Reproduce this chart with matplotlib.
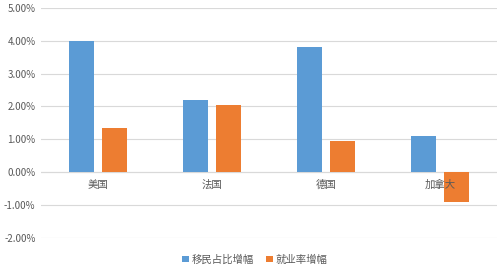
import matplotlib
matplotlib.use("Agg")
import matplotlib.pyplot as plt
import matplotlib.ticker as mticker
import matplotlib.transforms as mtransforms
import numpy as np

plt.rcParams['font.family'] = ['Noto Sans CJK SC', 'DejaVu Sans']

countries = ["美国", "法国", "德国", "加拿大"]
immigrant_share = [4.00, 2.20, 3.82, 1.10]
employment_rate = [1.35, 2.03, 0.95, -0.92]
series_names = ["移民占比增幅", "就业率增幅"]
yticks = [-2, -1, 0, 1, 2, 3, 4, 5]

blue = "#5B9BD5"
orange = "#ED7D31"
text_color = "#595959"
grid_color = "#D9D9D9"

fig = plt.figure(figsize=(5.0, 2.7), dpi=100)
ax = fig.add_axes([0.082, 0.119, 0.912, 0.852])

x = np.arange(len(countries))
w = 0.22
off = 0.143
ax.bar(x - off, immigrant_share, width=w, color=blue, label=series_names[0], zorder=3)
ax.bar(x + off, employment_rate, width=w, color=orange, label=series_names[1], zorder=3)

ax.set_xlim(-0.5, len(countries) - 0.5)
ax.set_ylim(-2.0, 5.0)
ax.set_yticks(yticks)
ax.yaxis.set_major_formatter(mticker.FuncFormatter(lambda v, p: f"{v:.2f}%"))
ax.tick_params(axis='y', length=0, labelsize=7, labelcolor=text_color, pad=4)
ax.set_xticks([])
ax.grid(axis='y', color=grid_color, linewidth=0.8, zorder=0)
for s in ax.spines.values():
    s.set_visible(False)
ax.axhline(0, color=grid_color, linewidth=0.8, zorder=2)

# category labels sit just under the zero line
lbl_tr = ax.transData + mtransforms.ScaledTranslation(0, -5.5 / 72, fig.dpi_scale_trans)
for xi, name in zip(x, countries):
    ax.text(xi, 0, name, transform=lbl_tr, ha='center', va='top',
            fontsize=7.5, color=text_color, zorder=4)

leg = fig.legend(loc='lower center', bbox_to_anchor=(0.51, -0.015), ncol=2,
                 frameon=False, fontsize=7.5, handlelength=0.6, handleheight=0.6,
                 handletextpad=0.3, columnspacing=1.2)
for t in leg.get_texts():
    t.set_color(text_color)

fig.savefig("out.png", dpi=100, facecolor="white")
